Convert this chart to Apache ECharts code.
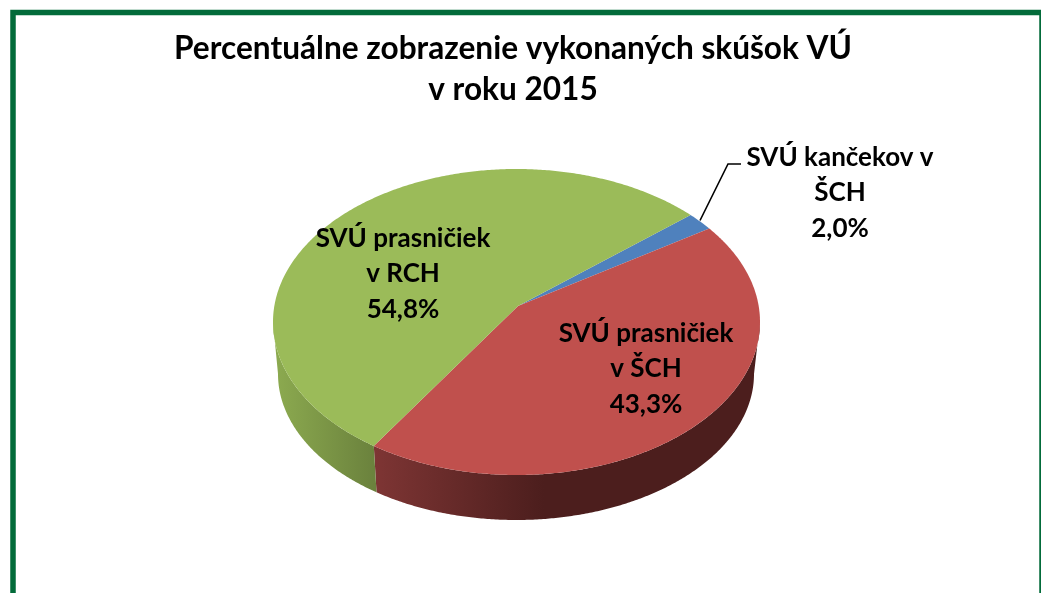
<!DOCTYPE html>
<html>
<head>
<meta charset="utf-8">
<style>html,body{margin:0;padding:0;background:#fff;overflow:hidden}#c{width:1041px;height:593px}</style>
<script src="https://cdn.jsdelivr.net/npm/echarts@6/dist/echarts.min.js"></script>
</head>
<body>
<div id="c"></div>
<script>
var titleText = 'Percentuálne zobrazenie vykonaných skúšok VÚ\nv roku 2015';
var categories = ['SVÚ kančekov v\nŠCH', 'SVÚ prasničiek\nv ŠCH', 'SVÚ prasničiek\nv RCH'];
var values = [2.0, 43.3, 54.8];
var topColors = ['#4F81BD', '#C0504D', '#9BBB59'];

var chart = echarts.init(document.getElementById('c'), null, {renderer: 'canvas'});
var FONT = 'Lato, "Open Sans", sans-serif';
var START = 50;
var TOP = {cx: 516.5, cy: 322, rx: 243.5, ry: 153};
var APEX = [518, 306];
var BOT = {cx: 516, cy: 374, rx: 238, ry: 146};
var labelPos = [[840, 193], [646, 369], [403, 274]];
var total = values.reduce(function (a, b) { return a + b; }, 0);

// A slice angle is measured around the perspective-shifted apex; find where that ray meets the rim.
function rimAngle(deg) {
  var t = deg * Math.PI / 180, dx = Math.sin(t), dy = -Math.cos(t);
  var ax = (APEX[0] - TOP.cx) / TOP.rx, ay = (APEX[1] - TOP.cy) / TOP.ry;
  var bb = ax * dx + ay * dy, cc = ax * ax + ay * ay - 1;
  var s = -bb + Math.sqrt(bb * bb - cc);
  var phi = Math.atan2(ax + s * dx, -(ay + s * dy)) * 180 / Math.PI;
  return phi + 360 * Math.round((deg - phi) / 360);
}
function rim(e, deg) {
  var t = deg * Math.PI / 180;
  return [e.cx + e.rx * Math.sin(t), e.cy - e.ry * Math.cos(t)];
}
function arc(e, a, b) {
  var pts = [], n = Math.max(2, Math.ceil(Math.abs(b - a) * 2));
  for (var i = 0; i <= n; i++) pts.push(rim(e, a + (b - a) * i / n));
  return pts;
}
function wall(a, b, fill) {
  return {type: 'polygon', silent: true, shape: {points: arc(TOP, a, b).concat(arc(BOT, b, a))},
    style: {fill: fill, stroke: null}};
}
function grad(x1, x2, stops) {
  return new echarts.graphic.LinearGradient(x1, 0, x2, 0, stops, true);
}

function renderItem(params, api) {
  var i = params.dataIndex, before = 0;
  for (var k = 0; k < i; k++) before += values[k];
  var a = rimAngle(START + before / total * 360);
  var b = rimAngle(START + (before + api.value(0)) / total * 360);
  var children = [];
  if (i === 1) {
    var p = rim(TOP, b);
    children.push(wall(Math.max(a, 90), b, grad(p[0], p[0] + 170, [
      {offset: 0, color: '#7E3534'}, {offset: 1, color: '#4C1E1D'}])));
  }
  if (i === 2) {
    var q = rim(TOP, a);
    children.push(wall(a, 270, grad(278, q[0], [
      {offset: 0, color: '#8BA94F'}, {offset: 1, color: '#6B823D'}])));
  }
  var face = [APEX].concat(arc(TOP, a, b));
  children.push({type: 'polygon', silent: true, shape: {points: face},
    style: {fill: topColors[i], stroke: null}});
  if (i === 0) {
    children.push({type: 'polyline', silent: true, z2: 5,
      shape: {points: [[700, 220.5], [728, 164], [741, 164]]},
      style: {stroke: '#000', lineWidth: 1.6, fill: null}});
  }
  var pct = api.value(0).toFixed(1).replace('.', ',') + '%';
  children.push({type: 'text', silent: true, z2: 10,
    x: labelPos[i][0], y: labelPos[i][1],
    style: {text: categories[i] + '\n' + pct, fill: '#000', font: 'bold 26px ' + FONT,
      align: 'center', verticalAlign: 'middle', lineHeight: 35.5}});
  return {type: 'group', children: children};
}

chart.setOption({
  animation: false,
  backgroundColor: '#fff',
  title: {
    text: titleText, left: 508, top: 23, textAlign: 'center',
    textStyle: {fontFamily: FONT, fontWeight: 'bold', fontSize: 31.6, lineHeight: 41, color: '#000'}
  },
  graphic: [{
    type: 'rect', silent: true, z: -1,
    shape: {x: 13, y: 12.5, width: 1029, height: 700},
    style: {fill: null, stroke: '#036B3A', lineWidth: 5.5}
  }],
  series: [{
    type: 'custom', coordinateSystem: 'none',
    data: values.map(function (v, i) { return {name: categories[i], value: [v]}; }),
    renderItem: renderItem
  }]
});
</script>
</body>
</html>
